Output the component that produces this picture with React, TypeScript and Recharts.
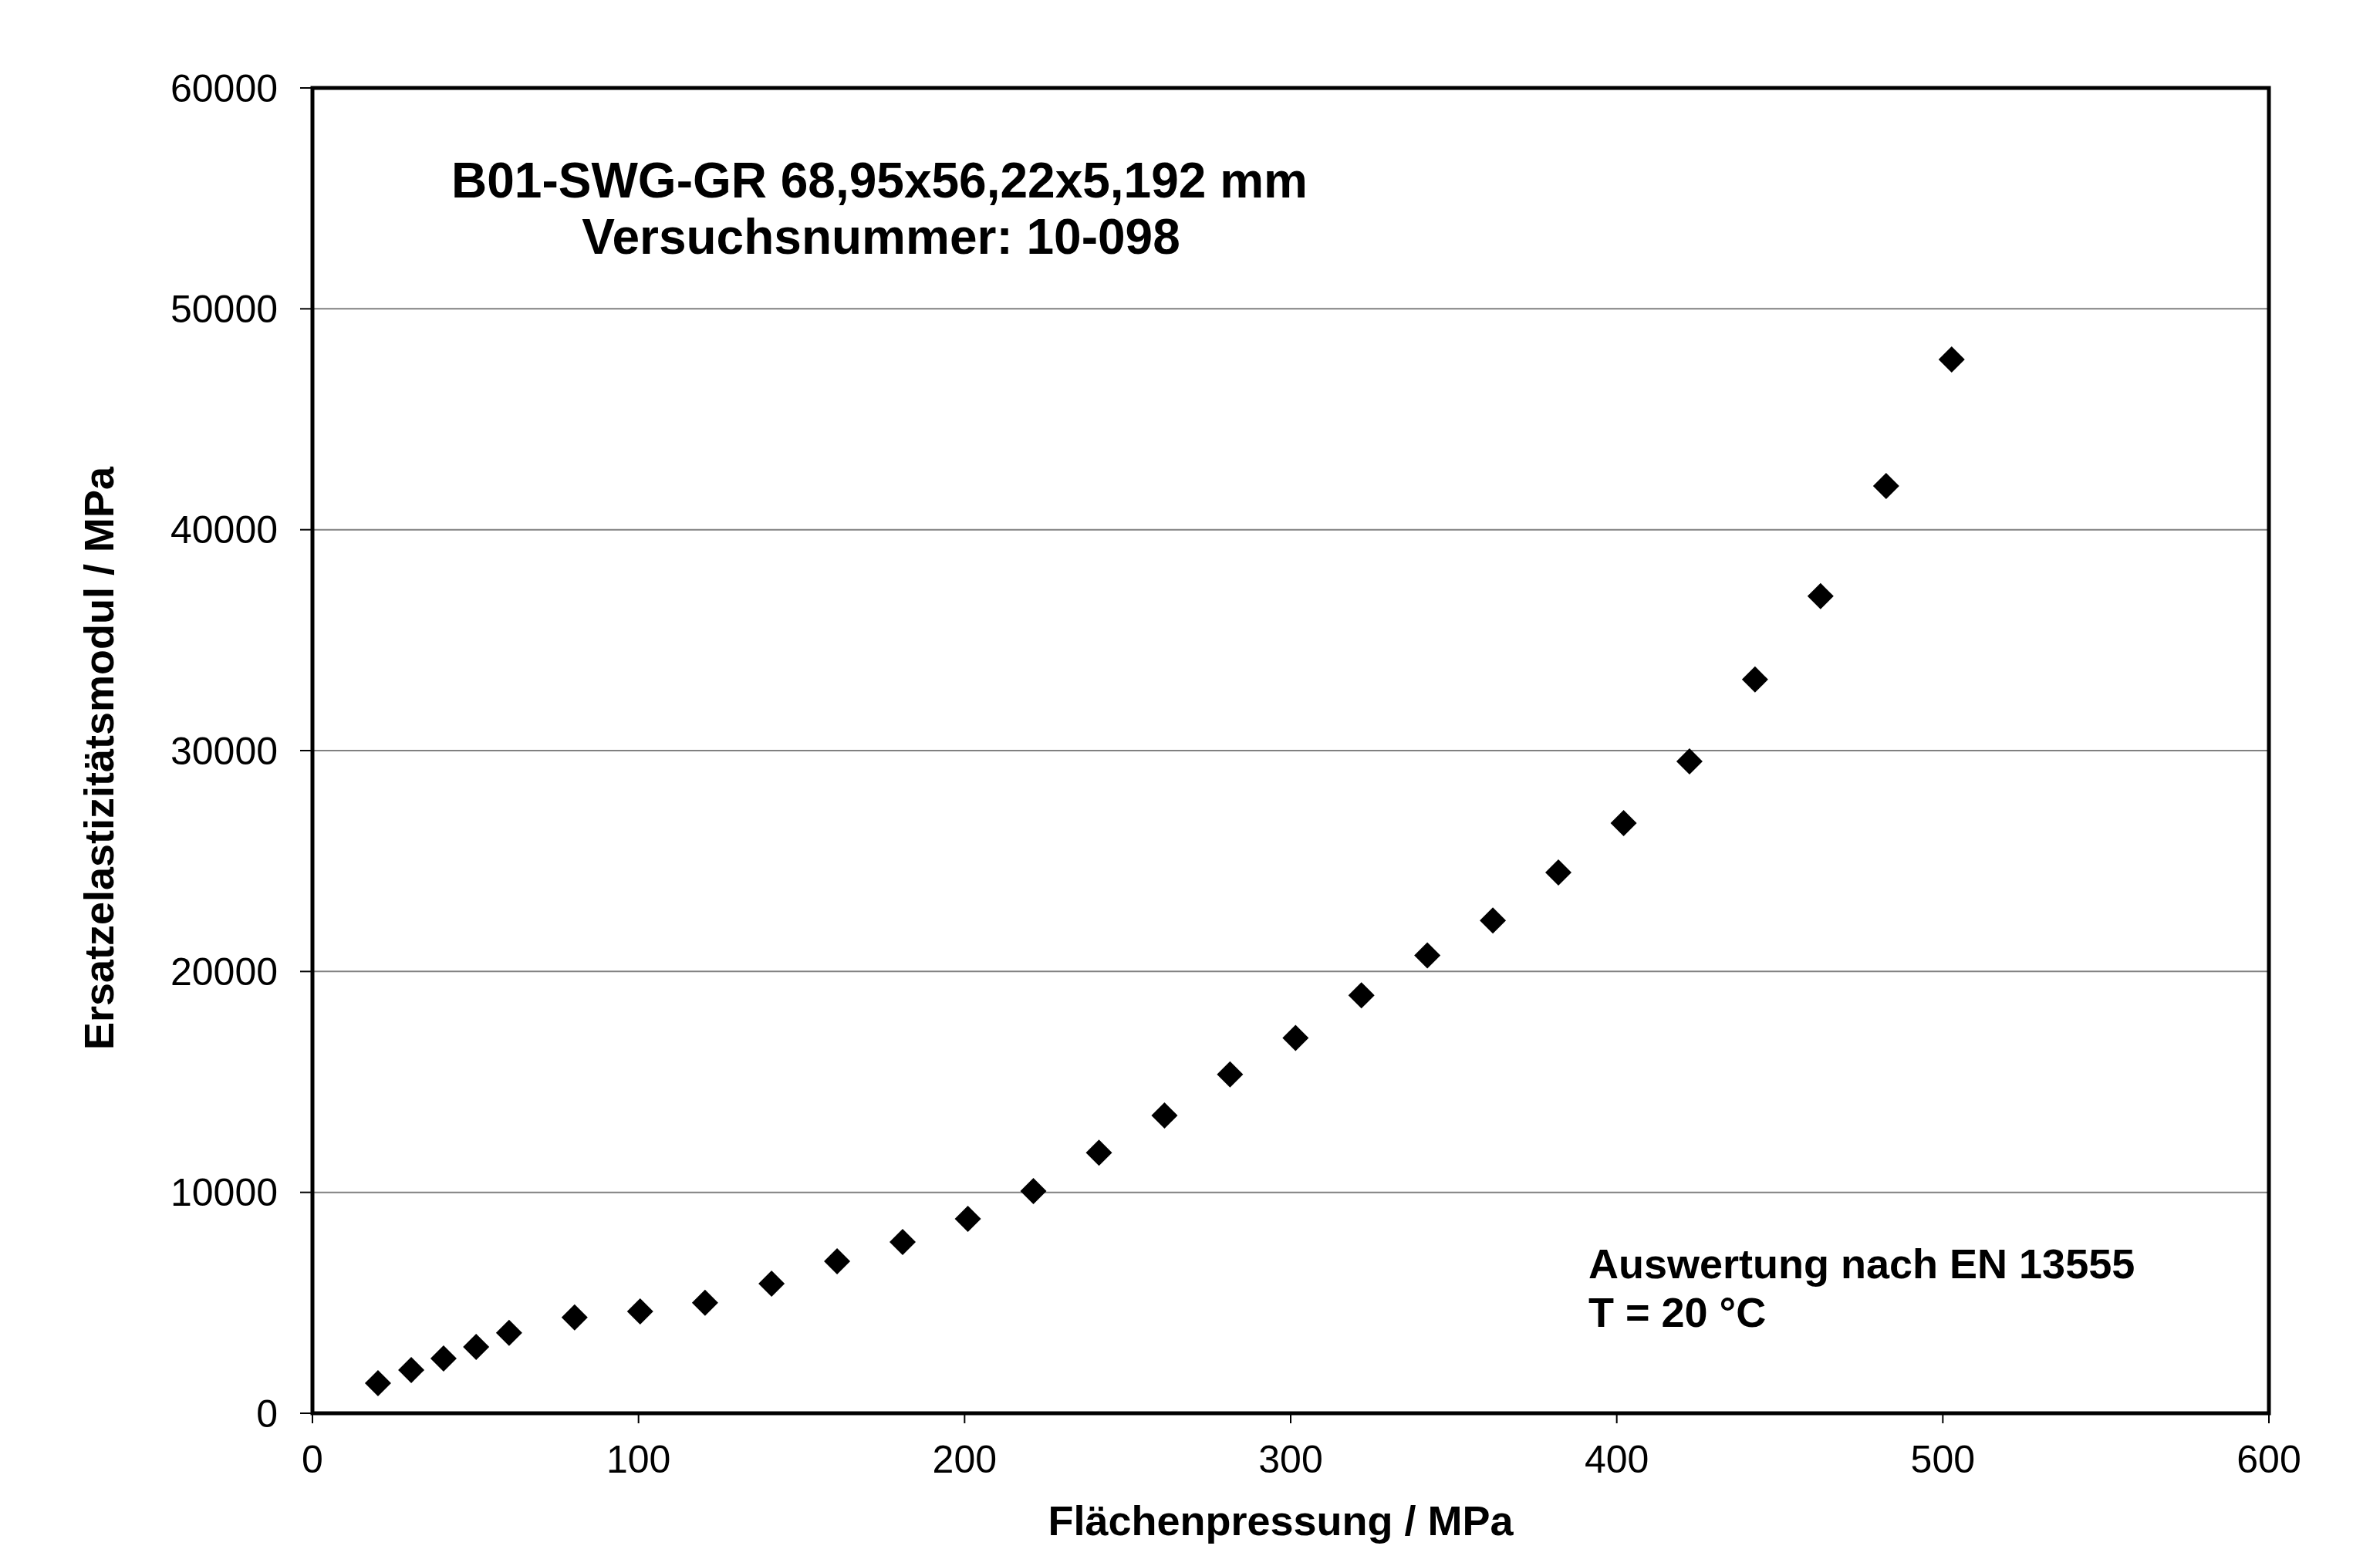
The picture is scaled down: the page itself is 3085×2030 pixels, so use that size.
import { CartesianGrid, ReferenceArea, Scatter, ScatterChart, XAxis, YAxis } from 'recharts'

// Flächenpressung (MPa) and Ersatzelastizitätsmodul (MPa)
const PRESSURE = [
  20.1, 30.3, 40.2, 50.2, 60.3, 80.4, 100.5, 120.4, 140.8, 160.9, 181, 201, 221.1, 241.2,
  261.3, 281.4, 301.5, 321.7, 341.9, 362, 382.1, 402.1, 422.3, 442.4, 462.5, 482.6, 502.7,
]
const MODULUS = [
  1360, 1960, 2480, 3000, 3640, 4340, 4610, 5000, 5870, 6880, 7750, 8800, 10060, 11800,
  13480, 15340, 16990, 18920, 20730, 22310, 24480, 26720, 29510, 33220, 36990, 41980, 47710,
]
const X_TICKS = [0, 100, 200, 300, 400, 500, 600]
const Y_TICKS = [0, 10000, 20000, 30000, 40000, 50000, 60000]

const TITLE = ['B01-SWG-GR 68,95x56,22x5,192 mm', 'Versuchsnummer: 10-098']
const NOTE = ['Auswertung nach EN 13555', 'T = 20 °C']

const FONT = '"Liberation Sans", Arial, sans-serif'

const data = PRESSURE.map((p, i) => ({ p, e: MODULUS[i] }))

function Diamond(props: { cx?: number; cy?: number }) {
  const { cx, cy } = props
  if (cx == null || cy == null) return null
  const r = 17
  return <path d={`M${cx},${cy - r}L${cx + r},${cy}L${cx},${cy + r}L${cx - r},${cy}Z`} fill="#000" />
}

export default function App() {
  return (
    <div style={{ width: 3085, height: 2030, background: '#fff' }}>
      <style>{'body{margin:0}'}</style>
      <ScatterChart width={3085} height={2030} margin={{ top: 114, right: 144, left: 0, bottom: 0 }}>
        <CartesianGrid vertical={false} stroke="#808080" strokeWidth={2} />
        <XAxis
          type="number"
          dataKey="p"
          domain={[0, 600]}
          ticks={X_TICKS}
          height={198}
          axisLine={false}
          tickLine={{ stroke: '#000', strokeWidth: 2 }}
          tickSize={13}
          tickMargin={28}
          tick={{ fontSize: 50, fill: '#000', fontFamily: FONT }}
        />
        <YAxis
          type="number"
          dataKey="e"
          domain={[0, 60000]}
          ticks={Y_TICKS}
          width={405}
          axisLine={false}
          tickLine={{ stroke: '#000', strokeWidth: 2 }}
          tickSize={16}
          tickMargin={29}
          tick={{ fontSize: 50, fill: '#000', fontFamily: FONT }}
        />
        <ReferenceArea x1={0} x2={600} y1={0} y2={60000} fill="none" stroke="#000" strokeWidth={5} />
        <Scatter data={data} shape={Diamond} isAnimationActive={false} />
        <text x={1140} y={256} textAnchor="middle" fontSize={64} fontWeight="bold" fontFamily={FONT}>
          {TITLE[0]}
        </text>
        <text x={1142} y={329} textAnchor="middle" fontSize={64} fontWeight="bold" fontFamily={FONT}>
          {TITLE[1]}
        </text>
        <text x={2059} y={1657} fontSize={54} fontWeight="bold" fontFamily={FONT}>
          {NOTE[0]}
        </text>
        <text x={2059} y={1720} fontSize={54} fontWeight="bold" fontFamily={FONT}>
          {NOTE[1]}
        </text>
        <text x={1660} y={1990} textAnchor="middle" fontSize={54} fontWeight="bold" fontFamily={FONT}>
          Flächenpressung / MPa
        </text>
        <text
          x={147}
          y={983}
          transform="rotate(-90 147 983)"
          textAnchor="middle"
          fontSize={54}
          fontWeight="bold"
          fontFamily={FONT}
        >
          Ersatzelastizitätsmodul / MPa
        </text>
      </ScatterChart>
    </div>
  )
}
